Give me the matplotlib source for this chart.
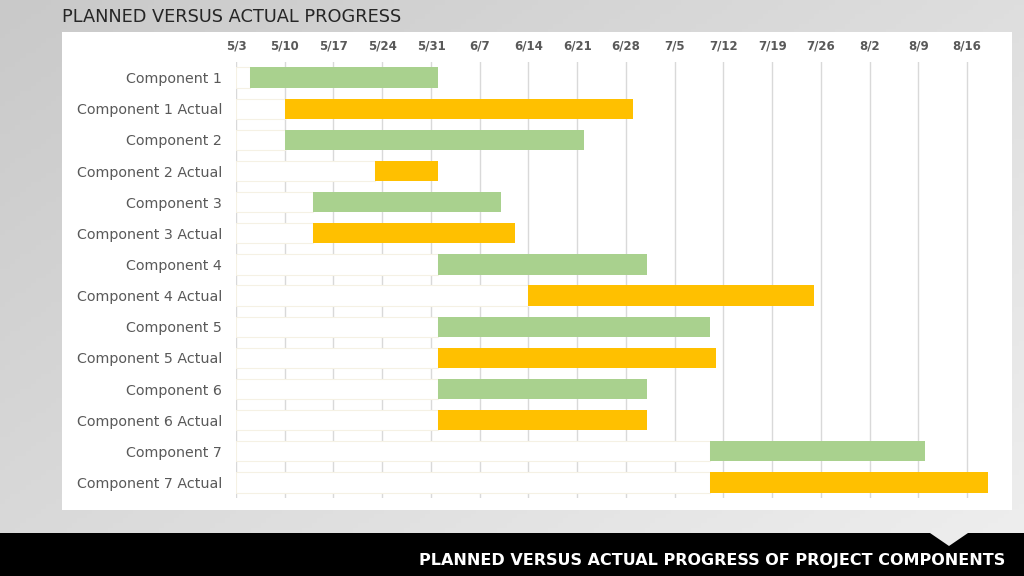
# Planned vs actual progress gantt chart

from datetime import datetime
import numpy as np
import matplotlib
matplotlib.use("Agg")
import matplotlib.pyplot as plt
import matplotlib.dates as mdates
from matplotlib.patches import Rectangle, Polygon

YEAR = 2021

components = ["Component 1", "Component 1 Actual", "Component 2", "Component 2 Actual",
              "Component 3", "Component 3 Actual", "Component 4", "Component 4 Actual",
              "Component 5", "Component 5 Actual", "Component 6", "Component 6 Actual",
              "Component 7", "Component 7 Actual"]
starts = ["5/5", "5/10", "5/10", "5/23", "5/14", "5/14", "6/1", "6/14",
          "6/1", "6/1", "6/1", "6/1", "7/10", "7/10"]
ends = ["6/1", "6/29", "6/22", "6/1", "6/10", "6/12", "7/1", "7/25",
        "7/10", "7/11", "7/1", "7/1", "8/10", "8/19"]
tick_labels = ["5/3", "5/10", "5/17", "5/24", "5/31", "6/7", "6/14", "6/21", "6/28",
               "7/5", "7/12", "7/19", "7/26", "8/2", "8/9", "8/16"]
axis_start = "5/3"
axis_end = "8/21"


def to_num(s):
    m, d = s.split("/")
    return mdates.date2num(datetime(YEAR, int(m), int(d)))


start_n = np.array([to_num(s) for s in starts])
end_n = np.array([to_num(s) for s in ends])
ticks = [to_num(s) for s in tick_labels]
x0, x1 = to_num(axis_start), to_num(axis_end)

green = "#A9D18E"
orange = "#FFC000"
colors = [green if i % 2 == 0 else orange for i in range(len(components))]

W, H = 1024, 576
fig = plt.figure(figsize=(W / 100, H / 100), dpi=100)

# slide background gradient
bg = fig.add_axes([0, 0, 1, 1], zorder=-10)
gx, gy = np.meshgrid(np.linspace(0, 1, 200), np.linspace(0, 1, 120))
grad = 0.55 * gx + 0.45 * gy
bg.imshow(grad, cmap=matplotlib.colors.LinearSegmentedColormap.from_list("g", ["#c9c9c9", "#efefef"]),
          extent=[0, 1, 0, 1], aspect="auto", origin="upper")
bg.set_xlim(0, 1)
bg.set_ylim(0, 1)
bg.axis("off")

# white panel
fig.patches.append(Rectangle((62 / W, 1 - 510 / H), (1012 - 62) / W, (510 - 32) / H,
                             transform=fig.transFigure, facecolor="white", edgecolor="none", zorder=-5))

# bottom black bar with notch
fig.patches.append(Rectangle((0, 0), 1, 43 / H, transform=fig.transFigure,
                             facecolor="black", edgecolor="none", zorder=1))
fig.patches.append(Polygon([(930 / W, 1 - 533 / H), (968 / W, 1 - 533 / H), (949 / W, 1 - 546 / H)],
                           closed=True, transform=fig.transFigure, facecolor="#ececec",
                           edgecolor="none", zorder=2))

ax = fig.add_axes([236 / W, 1 - 498 / H, (1002 - 236) / W, (498 - 62) / H])
ax.set_facecolor("none")

y = np.arange(len(components))
# invisible base bars (faint outline)
ax.barh(y, start_n - x0, left=x0, height=0.65, color="white", edgecolor="#f5f1e4",
        linewidth=0.8, zorder=2)
ax.barh(y, end_n - start_n, left=start_n, height=0.65, color=colors, edgecolor="none", zorder=3)

ax.set_xlim(x0, x1)
ax.set_ylim(len(components) - 0.5, -0.5)
ax.xaxis.tick_top()
ax.set_xticks(ticks)
ax.set_xticklabels(tick_labels, fontsize=8.5, fontweight="bold", color="#595959")
ax.set_yticks(y)
ax.set_yticklabels(components, fontsize=10.3, color="#595959")
ax.tick_params(axis="both", length=0)
ax.tick_params(axis="x", pad=7)
ax.tick_params(axis="y", pad=10)
ax.grid(axis="x", color="#d9d9d9", linewidth=1, zorder=1)
ax.set_axisbelow(True)
for sp in ax.spines.values():
    sp.set_visible(False)

fig.text(62 / W, 1 - 17 / H, "PLANNED VERSUS ACTUAL PROGRESS", fontsize=12.8,
         color="#262626", va="center", ha="left")
fig.text(1005 / W, 1 - 561 / H, "PLANNED VERSUS ACTUAL PROGRESS OF PROJECT COMPONENTS",
         fontsize=11.5, fontweight="bold", color="white", va="center", ha="right", zorder=3)

fig.savefig("out.png", dpi=100)
